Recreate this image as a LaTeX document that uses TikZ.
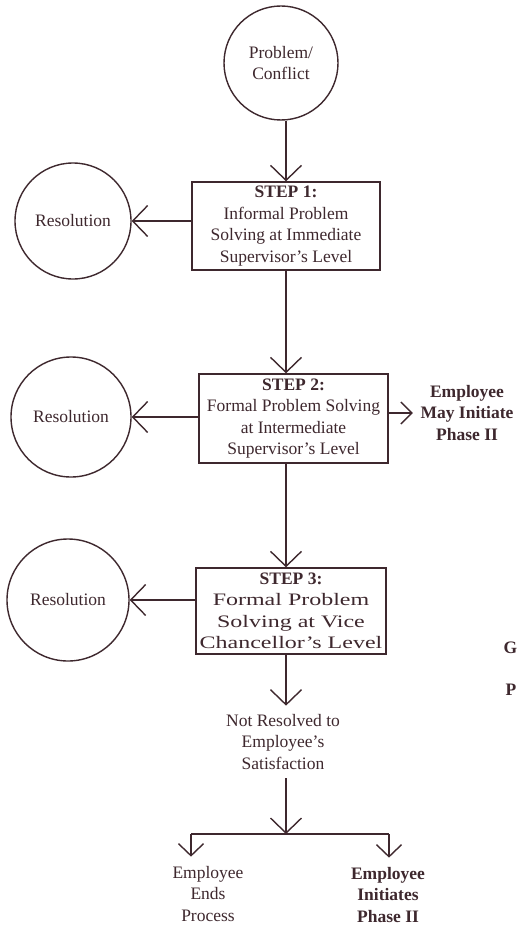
\documentclass[tikz,border=0pt]{standalone}
\usepackage{fontspec}
\setmainfont{Liberation Serif}
\newfontfamily\widefont[FakeStretch=1.37,Ligatures=TeX]{Liberation Serif}
\usetikzlibrary{arrows.meta}
\definecolor{ink}{RGB}{62,40,46}
\begin{document}
\begin{tikzpicture}[x=1pt,y=-1pt,line width=1.4pt,draw=ink,color=ink,
  every node/.style={font=\fontsize{17.5}{21.5}\selectfont, text=ink},
  arr/.style={-{Straight Barb[length=15pt,width=31pt,line width=1.4pt]}},
  smallarr/.style={-{Straight Barb[length=12pt,width=25pt,line width=1.4pt]}},
  circ/.style={draw=ink, circle, inner sep=0pt, align=center},
  stepbox/.style={draw=ink, rectangle, inner sep=0pt, align=center},
  lbl/.style={align=center, inner sep=0pt},
  boldlbl/.style={align=center, inner sep=0pt, font=\fontsize{17.5}{21.5}\selectfont\bfseries}]
\useasboundingbox (0,0) rectangle (518,928);
\fill[white] (0,0) rectangle (518,928);

\coordinate (spine) at (286,0);

\node[circ, minimum size=114pt] (prob) at (281,63) {Problem/\\Conflict};

\node[stepbox, minimum width=188pt, minimum height=88pt] (s1) at (286,226)
  {\textbf{STEP 1:}\\Informal Problem\\Solving at Immediate\\Supervisor's Level};
\node[stepbox, minimum width=189pt, minimum height=89pt] (s2) at (293.5,418.5)
  {\textbf{STEP 2:}\\Formal Problem Solving\\at Intermediate\\Supervisor's Level};
\node[stepbox, minimum width=190pt, minimum height=86pt] (s3) at (291,611)
  {\textbf{STEP 3:}\\{\widefont Formal Problem}\\{\widefont Solving at Vice}\\{\widefont Chancellor's Level}};

\node[circ, minimum size=116pt] (r1) at (73,221) {Resolution};
\node[circ, minimum size=120pt] (r2) at (71,417) {Resolution};
\node[circ, minimum size=122pt] (r3) at (68,600) {Resolution};

\node[boldlbl] (emp) at (467,413) {Employee\\May Initiate\\Phase II};

\node[lbl, inner sep=8pt] (nr) at (283,742) {Not Resolved to\\Employee's\\Satisfaction};

\coordinate (jl) at (191,834);
\coordinate (jc) at (286,834);
\coordinate (jr) at (389,834);

\node[lbl, inner sep=9pt] (end1) at (208,894) {Employee\\Ends\\Process};
\node[boldlbl, inner sep=9pt] (end2) at (388,895) {Employee\\Initiates\\Phase II};

\node[anchor=west, inner sep=0pt, font=\fontsize{17.5}{21.5}\selectfont\bfseries] (g) at (503,648) {G};
\node[anchor=west, inner sep=0pt, font=\fontsize{17.5}{21.5}\selectfont\bfseries] (p) at (505,690) {P};

% spine connectors
\draw[arr] (spine |- prob.south) -- (spine |- s1.north);
\draw[arr] (spine |- s1.south) -- (spine |- s2.north);
\draw[arr] (spine |- s2.south) -- (spine |- s3.north);
\draw[arr] (spine |- s3.south) -- (spine |- nr.north);
\draw[arr] (spine |- nr.south) -- (jc);

% resolutions
\draw[arr] (s1.west |- r1) -- (r1.east);
\draw[arr] (s2.west |- r2) -- (r2.east);
\draw[arr] (s3.west |- r3) -- (r3.east);

% phase II option
\draw[-{Straight Barb[length=11pt,width=22pt,line width=1.4pt]}, shorten >=7pt] (s2.east |- emp.west) -- (emp.west);

% split
\draw (jl) -- (jr);
\draw[smallarr] (jl) -- (jl |- end1.north);
\draw[smallarr] (jr) -- (jr |- end2.north);
\end{tikzpicture}
\end{document}
